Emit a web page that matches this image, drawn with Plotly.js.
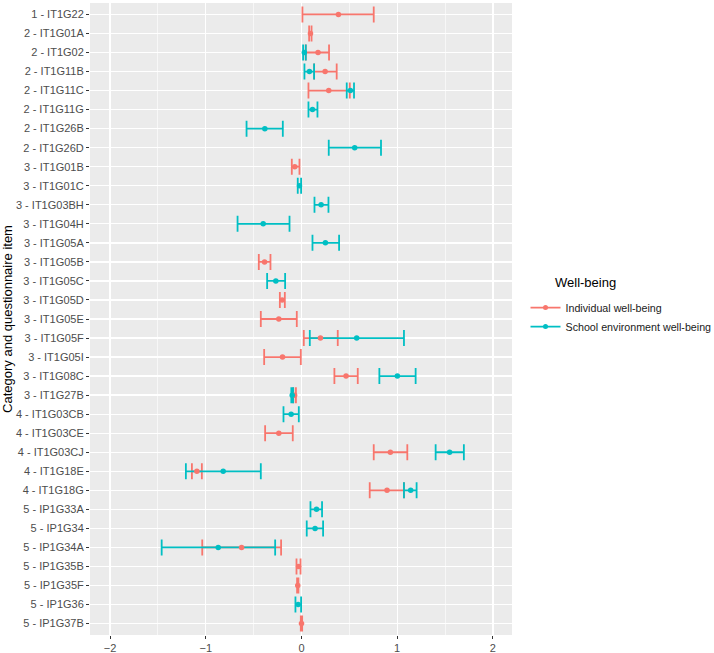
<!DOCTYPE html>
<html>
<head>
<meta charset="utf-8">
<script src="https://cdn.plot.ly/plotly-3.0.1.min.js"></script>
<style>html,body{margin:0;padding:0;background:#fff;}#chart{width:714px;height:653px;}</style>
</head>
<body>
<div id="chart"></div>
<script>
const items = ["1 - IT1G22","2 - IT1G01A","2 - IT1G02","2 - IT1G11B","2 - IT1G11C","2 - IT1G11G","2 - IT1G26B","2 - IT1G26D","3 - IT1G01B","3 - IT1G01C","3 - IT1G03BH","3 - IT1G04H","3 - IT1G05A","3 - IT1G05B","3 - IT1G05C","3 - IT1G05D","3 - IT1G05E","3 - IT1G05F","3 - IT1G05I","3 - IT1G08C","3 - IT1G27B","4 - IT1G03CB","4 - IT1G03CE","4 - IT1G03CJ","4 - IT1G18E","4 - IT1G18G","5 - IP1G33A","5 - IP1G34","5 - IP1G34A","5 - IP1G35B","5 - IP1G35F","5 - IP1G36","5 - IP1G37B"];

// Individual well-being
const indEst   = [0.386,0.094,0.173,0.247,0.285,null,null,null,-0.070,null,null,null,null,-0.386,null,-0.202,-0.237,0.198,-0.198,0.466,-0.072,null,-0.237,0.929,-1.093,0.894,null,null,-0.626,-0.031,-0.039,null,0.000];
const indLow   = [0.010,0.080,0.045,0.132,0.073,null,null,null,-0.101,null,null,null,null,-0.446,null,-0.226,-0.425,0.024,-0.390,0.344,-0.085,null,-0.380,0.755,-1.145,0.713,null,null,-1.037,-0.052,-0.046,null,-0.007];
const indHigh  = [0.755,0.105,0.288,0.368,0.505,null,null,null,-0.021,null,null,null,null,-0.324,null,-0.174,-0.049,0.379,-0.007,0.588,-0.058,null,-0.091,1.106,-1.041,1.071,null,null,-0.213,-0.010,-0.032,null,0.007];

// School environment well-being
const schEst   = [null,null,0.030,0.083,0.511,0.115,-0.383,0.556,null,-0.021,0.205,-0.400,0.250,null,-0.268,null,null,0.577,null,1.002,-0.097,-0.108,null,1.548,-0.818,1.141,0.157,0.142,-0.870,null,null,-0.035,null];
const schLow   = [null,null,0.017,0.031,0.473,0.073,-0.574,0.285,null,-0.039,0.136,-0.668,0.115,null,-0.359,null,null,0.087,null,0.814,-0.106,-0.188,null,1.402,-1.208,1.071,0.094,0.055,-1.461,null,null,-0.063,null];
const schHigh  = [null,null,0.045,0.132,0.549,0.167,-0.195,0.831,null,-0.004,0.282,-0.125,0.393,null,-0.171,null,null,1.071,null,1.193,-0.088,-0.028,null,1.697,-0.425,1.203,0.215,0.226,-0.275,null,null,-0.004,null];

const seriesNames = ["Individual well-being","School environment well-being"];
const colors = ["#F8766D","#00BFC4"];

function plus(est, hi){ return est.map((v,i)=> v===null?null:hi[i]-v); }
function minus(est, lo){ return est.map((v,i)=> v===null?null:v-lo[i]); }

const sets = [[indEst,indLow,indHigh],[schEst,schLow,schHigh]];
const traces = [];
sets.forEach((s,k)=>{
  traces.push({
    type:'scatter', mode:'markers', x:s[0], y:items, showlegend:false, hoverinfo:'skip',
    marker:{size:5,color:colors[k],opacity:0},
    error_x:{type:'data',symmetric:false,array:plus(s[0],s[2]),arrayminus:minus(s[0],s[1]),
      color:colors[k],thickness:1.8,width:8}
  });
});
sets.forEach((s,k)=>{
  traces.push({
    type:'scatter', mode:'markers', x:s[0], y:items, showlegend:false,
    marker:{size:5.5,color:colors[k]}
  });
});
seriesNames.forEach((n,k)=>{
  traces.push({type:'scatter',mode:'lines+markers',x:[null],y:[null],name:n,
    line:{color:colors[k],width:1.8},marker:{size:5,color:colors[k]}});
});

const layout = {
  width:714, height:653,
  margin:{l:90,r:202,t:3,b:18,autoexpand:false},
  paper_bgcolor:'#ffffff', plot_bgcolor:'#EBEBEB',
  font:{family:'Arial, "Liberation Sans", sans-serif', size:11, color:'#4D4D4D'},
  xaxis:{range:[-2.21,2.2], dtick:1, tick0:0, zeroline:false, showline:false,
    gridcolor:'#ffffff', gridwidth:1.3, ticks:'outside', ticklen:3, tickcolor:'#333333', tickwidth:1,
    tickfont:{size:11,color:'#4D4D4D'},
    minor:{dtick:0.5, tick0:0, gridcolor:'#ffffff', gridwidth:0.6, showgrid:true, ticks:''}},
  yaxis:{type:'category', categoryorder:'array', categoryarray:items, range:[items.length-0.4,-0.6],
    gridcolor:'#ffffff', gridwidth:1.3, zeroline:false, showline:false,
    ticks:'outside', ticklen:3, tickcolor:'#333333', tickwidth:1,
    tickfont:{size:11,color:'#4D4D4D'},
    title:{text:'Category and questionnaire item', font:{size:13,color:'#000000'}, standoff:7}},
  legend:{x:1.032, y:0.541, xanchor:'left', yanchor:'top', bgcolor:'rgba(0,0,0,0)',
    font:{size:10.7,color:'#1a1a1a'}, tracegroupgap:0, itemwidth:30},
  annotations:[{text:'Well-being', xref:'paper', yref:'paper', x:1.097, y:0.558, xanchor:'left', yanchor:'middle',
    showarrow:false, font:{size:13,color:'#000000'}}],
  showlegend:true
};
Plotly.newPlot('chart', traces, layout, {staticPlot:true});
</script>
</body>
</html>
